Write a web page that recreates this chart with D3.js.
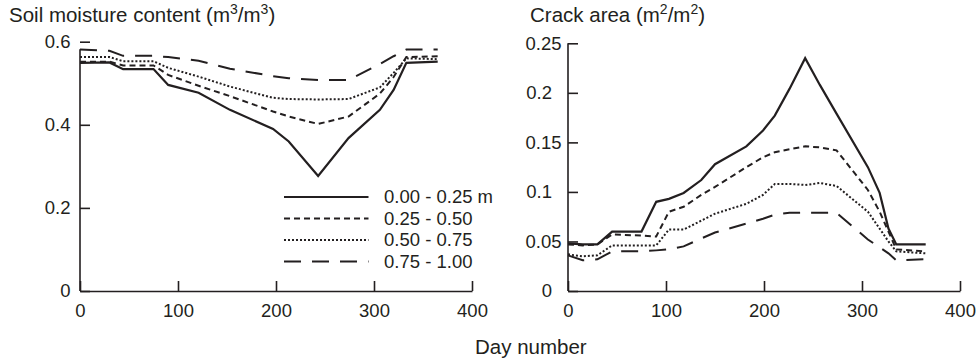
<!DOCTYPE html>
<html><head><meta charset="utf-8">
<script src="https://cdn.jsdelivr.net/npm/d3@7"></script>
<style>
body{margin:0;background:#fff}
svg{display:block}
text{font-family:"Liberation Sans",Arial,Helvetica,sans-serif;fill:#231f20}
</style>
</head><body>
<svg id="chart" width="980" height="363"></svg>
<script>
// ---------- data ----------
const leftDays = [0, 30, 44, 75, 90, 121, 153, 197, 213, 243, 274, 306, 320, 333, 365];
const moisture_000_025 = [0.549, 0.550, 0.534, 0.534, 0.496, 0.477, 0.436, 0.390, 0.360, 0.277, 0.368, 0.436, 0.484, 0.549, 0.552];
const moisture_025_050 = [0.552, 0.552, 0.543, 0.543, 0.520, 0.494, 0.469, 0.432, 0.420, 0.402, 0.420, 0.475, 0.515, 0.563, 0.565];
const moisture_050_075 = [0.563, 0.563, 0.553, 0.553, 0.537, 0.516, 0.492, 0.465, 0.462, 0.461, 0.462, 0.490, 0.525, 0.560, 0.558];
const moisture_075_100 = [0.581, 0.578, 0.566, 0.566, 0.563, 0.554, 0.535, 0.517, 0.512, 0.508, 0.508, 0.546, 0.565, 0.581, 0.581];

const rightDays = [0, 15, 30, 45, 75, 90, 103, 118, 136, 150, 182, 199, 211, 226, 242, 257, 274, 306, 318, 327, 335, 365];
const crack_000_025 = [0.048, 0.047, 0.047, 0.060, 0.060, 0.090, 0.093, 0.099, 0.112, 0.128, 0.146, 0.162, 0.177, 0.204, 0.235, 0.208, 0.179, 0.125, 0.099, 0.063, 0.047, 0.047];
const crack_025_050 = [0.047, 0.046, 0.047, 0.057, 0.056, 0.055, 0.080, 0.085, 0.097, 0.105, 0.125, 0.135, 0.140, 0.143, 0.146, 0.145, 0.142, 0.102, 0.080, 0.060, 0.042, 0.040];
const crack_050_075 = [0.037, 0.035, 0.036, 0.046, 0.046, 0.046, 0.062, 0.062, 0.071, 0.078, 0.088, 0.097, 0.108, 0.108, 0.107, 0.109, 0.106, 0.080, 0.063, 0.050, 0.040, 0.038];
const crack_075_100 = [0.036, 0.031, 0.032, 0.040, 0.040, 0.041, 0.042, 0.045, 0.053, 0.059, 0.068, 0.073, 0.077, 0.079, 0.079, 0.079, 0.079, 0.052, 0.044, 0.038, 0.031, 0.032];

const depthLabels = ["0.00 - 0.25 m", "0.25 - 0.50", "0.50 - 0.75", "0.75 - 1.00"];
const xTicks = [0, 100, 200, 300, 400];
const leftYTicks = [0, 0.2, 0.4, 0.6];
const rightYTicks = [0, 0.05, 0.1, 0.15, 0.2, 0.25];
const xLabel = "Day number";

// ---------- styles ----------
const INK = "#231f20";
const dashStyles = [null, "6,4", "2,2", "17,11"];
const FS = 18.5;

const svg = d3.select("#chart");

function drawPanel(opts) {
  const x = d3.scaleLinear().domain([0, 400]).range(opts.xRange);
  const y = d3.scaleLinear().domain(opts.yDomain).range(opts.yRange);
  const g = svg.append("g");

  // x axis
  const xa = g.append("g").attr("transform", `translate(0,${opts.yRange[0]})`)
    .call(d3.axisBottom(x).tickValues(xTicks).tickFormat(d3.format("d"))
      .tickSizeInner(-10).tickSizeOuter(0).tickPadding(13));
  xa.select(".domain").attr("stroke", INK).attr("stroke-width", 1.6);
  xa.selectAll(".tick line").attr("stroke", INK).attr("stroke-width", 1.6);
  xa.selectAll("text").attr("font-size", FS).attr("font-family", null).attr("fill", INK);

  // y axis
  const ya = g.append("g").attr("transform", `translate(${opts.xRange[0]},0)`)
    .call(d3.axisLeft(y).tickValues(opts.yTicks).tickFormat(opts.fmt)
      .tickSizeInner(-10).tickSizeOuter(0).tickPadding(9.5));
  ya.select(".domain").remove();
  ya.selectAll(".tick line").attr("stroke", INK).attr("stroke-width", 1.6);
  ya.selectAll("text").attr("font-size", FS).attr("font-family", null).attr("fill", INK)
    .attr("x", d => opts.labelX ? opts.labelX(d) : -9.5);
  g.append("line")
    .attr("x1", opts.xRange[0]).attr("x2", opts.xRange[0])
    .attr("y1", y(0)).attr("y2", y(opts.axisTop))
    .attr("stroke", INK).attr("stroke-width", 1.6);

  // title
  const t = g.append("text").attr("x", opts.titleX).attr("y", 22).attr("font-size", 20.5);
  t.append("tspan").text(opts.title[0] + "(m");
  t.append("tspan").attr("dy", -8).attr("font-size", 14).text(opts.sup);
  t.append("tspan").attr("dy", 8).text("/m");
  t.append("tspan").attr("dy", -8).attr("font-size", 14).text(opts.sup);
  t.append("tspan").attr("dy", 8).text(")");

  // lines
  const line = d3.line().x(d => x(d[0])).y(d => y(d[1]));
  opts.series.forEach((vals, i) => {
    const pts = opts.days.map((d, j) => [d, vals[j]]);
    g.append("path").datum(pts)
      .attr("d", line)
      .attr("fill", "none")
      .attr("stroke", INK)
      .attr("stroke-width", i === 0 ? 2.2 : 2)
      .attr("stroke-linejoin", "miter")
      .attr("stroke-dasharray", dashStyles[i]);
  });
  return { x, y, g };
}

drawPanel({
  xRange: [80, 472], yRange: [291, 41.7], yDomain: [0, 0.6],
  yTicks: leftYTicks, fmt: d => d === 0 ? "0" : d3.format(".1f")(d),
  axisTop: 0.582,
  title: ["Soil moisture content "], sup: "3", titleX: 9,
  days: leftDays,
  series: [moisture_000_025, moisture_025_050, moisture_050_075, moisture_075_100]
});

drawPanel({
  xRange: [568, 960], yRange: [291, 43.3], yDomain: [0, 0.25],
  yTicks: rightYTicks, fmt: d => d === 0 ? "0" : String(+d.toFixed(2)),
  labelX: d => (Math.round(d * 100) % 10 === 5) ? -6.5 : -16,
  axisTop: 0.25,
  title: ["Crack area "], sup: "2", titleX: 530,
  days: rightDays,
  series: [crack_000_025, crack_025_050, crack_050_075, crack_075_100]
});

// legend
const legend = svg.append("g");
const legendY = [197, 218.5, 240, 261.5];
depthLabels.forEach((lab, i) => {
  legend.append("line")
    .attr("x1", 284).attr("x2", 368.5)
    .attr("y1", legendY[i]).attr("y2", legendY[i])
    .attr("stroke", INK).attr("stroke-width", i === 0 ? 2.2 : 2)
    .attr("stroke-dasharray", dashStyles[i]);
  legend.append("text").attr("x", 384).attr("y", legendY[i])
    .attr("dy", "0.35em").attr("font-size", FS).text(lab);
});

// x label
svg.append("text").attr("x", 475).attr("y", 354).attr("font-size", 20.5).text(xLabel);
</script>
</body></html>
